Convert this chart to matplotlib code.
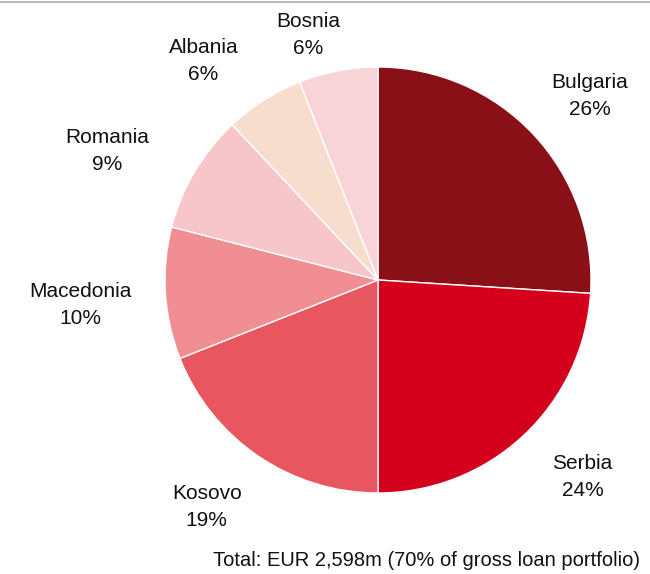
import matplotlib.pyplot as plt
import numpy as np

plt.rcParams['font.family'] = ['Liberation Sans', 'DejaVu Sans']

countries = ['Bulgaria', 'Serbia', 'Kosovo', 'Macedonia', 'Romania', 'Albania', 'Bosnia']
shares = [26, 24, 19, 10, 9, 6, 6]
colors = ['#8A1018', '#D5001C', '#E85660', '#F08E93', '#F6C6CA', '#F6DDCE', '#F8D4D9']
footnote = 'Total: EUR 2,598m (70% of gross loan portfolio)'

# label distance / angle nudge per slice (Excel-style placement)
label_dist = [1.32, 1.33, 1.33, 1.40, 1.41, 1.32, 1.20]
label_rot = [-2, 3, -3, 1, 5, 6, 5]

fig = plt.figure(figsize=(6.5, 5.74), dpi=100)
ax = fig.add_axes([165 / 650, 81 / 574, 426 / 650, 426 / 574])

wedges, _ = ax.pie(shares, colors=colors, startangle=90, counterclock=False,
                   wedgeprops=dict(edgecolor='white', linewidth=1.0))

for w, name, val, d, rot in zip(wedges, countries, shares, label_dist, label_rot):
    mid = np.deg2rad((w.theta1 + w.theta2) / 2 + rot)
    ax.text(d * np.cos(mid), d * np.sin(mid) - 0.005, f'{name}\n{val}%',
            ha='center', va='center', fontsize=15, linespacing=1.55, color='#111111')

ax.set_xlim(-1, 1)
ax.set_ylim(-1, 1)
ax.set_aspect('equal')
ax.axis('off')

fig.text(640 / 650, 1 - 561 / 574, footnote, ha='right', va='center', fontsize=14.5, color='#111111')
fig.add_artist(plt.Line2D([0, 1], [1 - 2 / 574, 1 - 2 / 574], color='#BBBBBB', linewidth=1.5))

fig.savefig('out.png', dpi=100)
